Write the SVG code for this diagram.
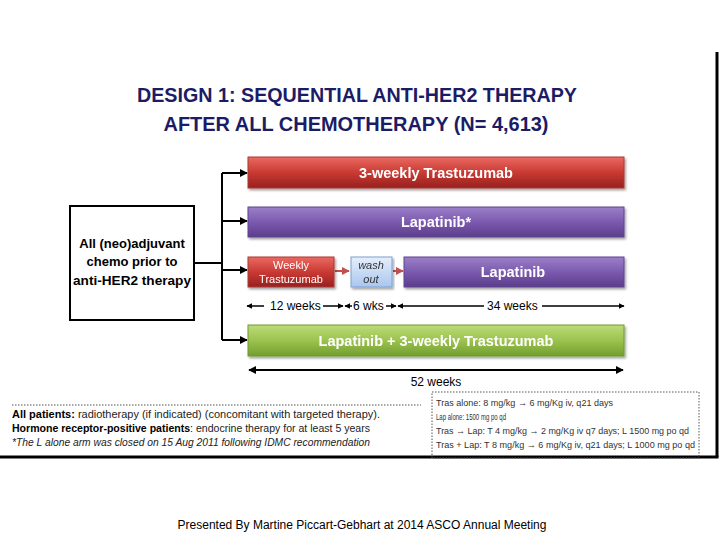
<svg xmlns="http://www.w3.org/2000/svg" width="720" height="540" viewBox="0 0 720 540">
<defs>
<style>
.title{font-family:"Liberation Sans",Arial,sans-serif;font-weight:bold;font-size:20px;fill:#1c1c66;text-anchor:middle}
.bar{font-family:"Liberation Sans",Arial,sans-serif;font-weight:bold;font-size:14.5px;fill:#fff;text-anchor:middle}
.box{font-family:"Liberation Sans",Arial,sans-serif;font-weight:bold;font-size:13px;fill:#000;text-anchor:middle}
.small{font-family:"Liberation Sans",Arial,sans-serif;font-size:11px;fill:#fff;text-anchor:middle}
.wash{font-family:"Liberation Sans",Arial,sans-serif;font-style:italic;font-size:11px;fill:#333;text-anchor:middle}
.dur{font-family:"Liberation Sans",Arial,sans-serif;font-size:12px;fill:#000}
.note{font-family:"Liberation Sans",Arial,sans-serif;font-size:10px;fill:#222}
.rnote{font-family:"Liberation Sans",Arial,sans-serif;font-size:9.5px;fill:#333}
.foot{font-family:"Liberation Sans",Arial,sans-serif;font-size:12px;fill:#000;text-anchor:middle}
.ln{stroke:#000;stroke-width:2;fill:none}
.dl{stroke:#000;stroke-width:1.5;fill:none}
</style>
<linearGradient id="gRed" x1="0" y1="0" x2="0" y2="1">
<stop offset="0" stop-color="#ea6a62"/><stop offset="0.5" stop-color="#c93a33"/><stop offset="1" stop-color="#982020"/>
</linearGradient>
<linearGradient id="gPur" x1="0" y1="0" x2="0" y2="1">
<stop offset="0" stop-color="#9c80c9"/><stop offset="0.5" stop-color="#7b5aae"/><stop offset="1" stop-color="#5c3d8c"/>
</linearGradient>
<linearGradient id="gGrn" x1="0" y1="0" x2="0" y2="1">
<stop offset="0" stop-color="#bcdb78"/><stop offset="0.5" stop-color="#9cc350"/><stop offset="1" stop-color="#729e2e"/>
</linearGradient>
<linearGradient id="gBlu" x1="0" y1="0" x2="0" y2="1">
<stop offset="0" stop-color="#e6effc"/><stop offset="1" stop-color="#a9c6ee"/>
</linearGradient>
<filter id="sh" x="-5%" y="-20%" width="110%" height="150%">
<feDropShadow dx="1.5" dy="2" stdDeviation="1.2" flood-color="#000" flood-opacity="0.35"/>
</filter>
<marker id="ah" viewBox="0 0 10 10" refX="9" refY="5" markerWidth="4" markerHeight="4" orient="auto-start-reverse">
<path d="M0,0 L10,5 L0,10 z" fill="#000"/>
</marker>
<marker id="ahr" viewBox="0 0 10 10" refX="9" refY="5" markerWidth="4" markerHeight="4" orient="auto">
<path d="M0,0 L10,5 L0,10 z" fill="#c0504d"/>
</marker>
</defs>
<rect width="720" height="540" fill="#fff"/>

<!-- frame lines -->
<line x1="717" y1="52" x2="717" y2="457" stroke="#000" stroke-width="3"/>
<line x1="0" y1="457" x2="718.5" y2="457" stroke="#000" stroke-width="3"/>

<!-- title -->
<g id="title">
<text class="title" x="357" y="102" textLength="440" lengthAdjust="spacingAndGlyphs">DESIGN 1: SEQUENTIAL ANTI-HER2 THERAPY</text>
<text class="title" x="356" y="131" textLength="385" lengthAdjust="spacingAndGlyphs">AFTER ALL CHEMOTHERAPY (N= 4,613)</text>
</g>

<!-- connectors -->
<g id="connectors">
<path class="ln" d="M194,263 H222"/>
<path class="ln" d="M222,173 V340"/>
<path class="ln" d="M222,173 H247" marker-end="url(#ah)"/>
<path class="ln" d="M222,221 H247" marker-end="url(#ah)"/>
<path class="ln" d="M222,270 H247" marker-end="url(#ah)"/>
<path class="ln" d="M222,340 H247" marker-end="url(#ah)"/>
<path d="M335,271 H349" stroke="#c0504d" stroke-width="2" marker-end="url(#ahr)"/>
<path d="M393,271 H403" stroke="#c0504d" stroke-width="2" marker-end="url(#ahr)"/>
</g>

<!-- left box -->
<g id="chemo">
<rect x="70" y="206" width="124" height="114" fill="#fff" stroke="#000" stroke-width="2"/>
<text class="box" x="132" y="248">All (neo)adjuvant</text>
<text class="box" x="132" y="266">chemo prior to</text>
<text class="box" x="132" y="285" textLength="118" lengthAdjust="spacingAndGlyphs">anti-HER2 therapy</text>
</g>

<g id="arm1" filter="url(#sh)">
<rect x="248" y="157" width="376" height="31" fill="url(#gRed)" stroke="#a83a35" stroke-width="1"/>
<text class="bar" x="436" y="178">3-weekly Trastuzumab</text>
</g>

<g id="arm2" filter="url(#sh)">
<rect x="248" y="207" width="376" height="30" fill="url(#gPur)" stroke="#5e4490" stroke-width="1"/>
<text class="bar" x="436" y="227">Lapatinib*</text>
</g>

<g id="arm3a" filter="url(#sh)">
<rect x="248" y="257" width="86" height="30" fill="url(#gRed)" stroke="#a83a35" stroke-width="1"/>
<text class="small" x="291" y="269">Weekly</text>
<text class="small" x="291" y="283">Trastuzumab</text>
</g>

<g id="washout" filter="url(#sh)">
<rect x="351" y="257" width="41" height="30" fill="url(#gBlu)" stroke="#7f9fd0" stroke-width="1"/>
<text class="wash" x="371" y="269">wash</text>
<text class="wash" x="371" y="283">out</text>
</g>

<g id="arm3b" filter="url(#sh)">
<rect x="404" y="257" width="220" height="30" fill="url(#gPur)" stroke="#5e4490" stroke-width="1"/>
<text class="bar" x="513" y="277">Lapatinib</text>
</g>

<!-- durations -->
<g id="durations">
<path class="dl" d="M264,306 H247" marker-end="url(#ah)"/>
<text class="dur" x="270" y="310">12 weeks</text>
<path class="dl" d="M323,306 H343" marker-end="url(#ah)"/>
<path class="dl" d="M352,306 H345" marker-end="url(#ah)"/>
<text class="dur" x="353" y="310">6 wks</text>
<path class="dl" d="M386,306 H396" marker-end="url(#ah)"/>
<path class="dl" d="M484,306 H398" marker-end="url(#ah)"/>
<text class="dur" x="487" y="310">34 weeks</text>
<path class="dl" d="M542,306 H624" marker-end="url(#ah)"/>
</g>

<g id="arm4" filter="url(#sh)">
<rect x="248" y="325" width="376" height="31" fill="url(#gGrn)" stroke="#6e9a30" stroke-width="1"/>
<text class="bar" x="436" y="346">Lapatinib + 3-weekly Trastuzumab</text>
</g>

<g id="total">
<path class="ln" d="M249,370 H623" marker-start="url(#ah)" marker-end="url(#ah)"/>
<text class="dur" x="436" y="386" text-anchor="middle">52 weeks</text>
</g>

<!-- footnotes -->
<g id="notes">
<line x1="12" y1="405" x2="421" y2="405" stroke="#555" stroke-width="1" stroke-dasharray="1.5,1.5"/>
<text class="note" x="12" y="418" textLength="368" lengthAdjust="spacingAndGlyphs"><tspan font-weight="bold" fill="#000">All patients:</tspan> radiotherapy (if indicated) (concomitant with targeted therapy).</text>
<text class="note" x="12" y="432" textLength="358" lengthAdjust="spacingAndGlyphs"><tspan font-weight="bold" fill="#000">Hormone receptor-positive patients</tspan>: endocrine therapy for at least 5 years</text>
<text class="note" x="12" y="446" font-style="italic" textLength="358" lengthAdjust="spacingAndGlyphs">*The L alone arm was closed on 15 Aug 2011 following IDMC recommendation</text>
</g>

<g id="dosing">
<rect x="432" y="392" width="267" height="66" fill="none" stroke="#555" stroke-width="1" stroke-dasharray="1.5,1.5"/>
<text class="rnote" x="436" y="406" textLength="177" lengthAdjust="spacingAndGlyphs">Tras alone: 8 mg/kg → 6 mg/Kg iv, q21 days</text>
<text class="rnote" x="436" y="420" textLength="70" lengthAdjust="spacingAndGlyphs">Lap alone: 1500 mg po qd</text>
<text class="rnote" x="436" y="434" textLength="253" lengthAdjust="spacingAndGlyphs">Tras → Lap: T 4 mg/kg → 2 mg/Kg iv q7 days; L 1500 mg po qd</text>
<text class="rnote" x="436" y="448" textLength="259" lengthAdjust="spacingAndGlyphs">Tras + Lap: T 8 mg/kg → 6 mg/Kg iv, q21 days; L 1000 mg po qd</text>
</g>

<text class="foot" x="362" y="529">Presented By Martine Piccart-Gebhart at 2014 ASCO Annual Meeting</text>
</svg>
